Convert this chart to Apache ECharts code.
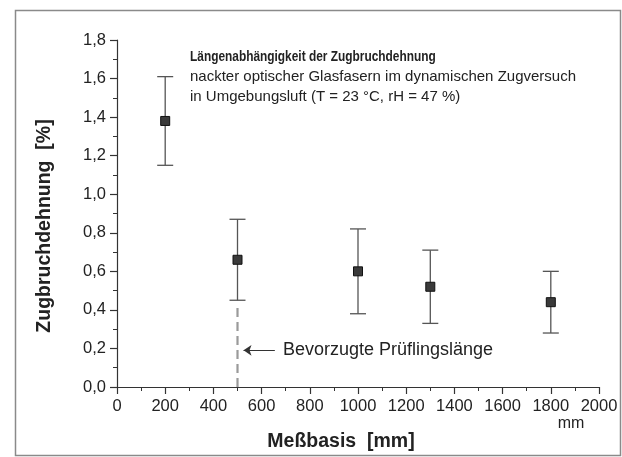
<!DOCTYPE html>
<html>
<head>
<meta charset="utf-8">
<script src="https://cdn.jsdelivr.net/npm/echarts@6/dist/echarts.min.js"></script>
<style>
  html, body { margin: 0; padding: 0; background: #fff; }
  #chart { width: 622px; height: 457px; }
</style>
</head>
<body>
<div id="chart"></div>
<script>
// Messbasis der Proben [mm]
const messbasis = [200, 500, 1000, 1300, 1800];
// Zugbruchdehnung [%]: Mittelwert und Streubereich
const mittelwert = [1.38, 0.66, 0.60, 0.52, 0.44];
const untereGrenze = [1.15, 0.45, 0.38, 0.33, 0.28];
const obereGrenze = [1.61, 0.87, 0.82, 0.71, 0.60];

// gestrichelte Markierung der bevorzugten Prüflingslänge
const bevorzugtX = [500, 500];
const bevorzugtY = [0, 0.43];
// Pfeil zur Beschriftung
const pfeilX = [525, 655];
const pfeilY = [0.19, 0.19];

// Achsenteilung
const xTicks = [0, 200, 400, 600, 800, 1000, 1200, 1400, 1600, 1800, 2000];
const yTicks = [0.0, 0.2, 0.4, 0.6, 0.8, 1.0, 1.2, 1.4, 1.6, 1.8];

const FONT = '"Liberation Sans", Arial, sans-serif';
const textColor = "#222";

const chart = echarts.init(document.getElementById("chart"), null, { renderer: "canvas" });

const punkte = messbasis.map((x, i) => [x, mittelwert[i]]);
const balken = messbasis.map((x, i) => [x, untereGrenze[i], obereGrenze[i]]);
const strich = bevorzugtX.map((x, i) => [x, bevorzugtY[i]]);

const achse = {
  axisLine: { show: true, lineStyle: { color: "#333", width: 1.2 } },
  axisTick: { show: true, inside: false, length: 7, lineStyle: { color: "#333", width: 1.2 } },
  minorTick: { show: true, splitNumber: 2, length: 4, lineStyle: { color: "#333", width: 1 } },
  splitLine: { show: false },
  minorSplitLine: { show: false },
};

chart.setOption({
  animation: false,
  backgroundColor: "#fff",
  grid: { left: 117, right: 23, top: 40, bottom: 70, containLabel: false },
  xAxis: {
    type: "value",
    min: xTicks[0],
    max: xTicks[xTicks.length - 1],
    interval: xTicks[1] - xTicks[0],
    ...achse,
    axisLabel: { margin: 11, fontSize: 16.5, fontFamily: FONT, color: textColor, formatter: (v) => String(v) },
  },
  yAxis: {
    type: "value",
    min: yTicks[0],
    max: yTicks[yTicks.length - 1],
    interval: 0.2,
    ...achse,
    axisLabel: {
      margin: 11,
      fontSize: 16.5,
      fontFamily: FONT,
      color: textColor,
      formatter: (v) => v.toFixed(1).replace(".", ","),
    },
  },
  series: [
    {
      // Fehlerbalken
      type: "custom",
      data: balken,
      z: 2,
      renderItem: function (params, api) {
        const x = api.value(0);
        const lo = api.coord([x, api.value(1)]);
        const hi = api.coord([x, api.value(2)]);
        const hw = 8;
        const style = { stroke: "#555", lineWidth: 1.3 };
        return {
          type: "group",
          children: [
            { type: "line", shape: { x1: hi[0], y1: hi[1], x2: lo[0], y2: lo[1] }, style: style },
            { type: "line", shape: { x1: hi[0] - hw, y1: hi[1], x2: hi[0] + hw, y2: hi[1] }, style: style },
            { type: "line", shape: { x1: lo[0] - hw, y1: lo[1], x2: lo[0] + hw, y2: lo[1] }, style: style },
          ],
        };
      },
    },
    {
      // Mittelwerte
      type: "scatter",
      data: punkte,
      symbol: "rect",
      symbolSize: 9,
      z: 3,
      itemStyle: { color: "#3a3a3a", borderColor: "#111", borderWidth: 1, opacity: 1 },
    },
    {
      // bevorzugte Prüflingslänge
      type: "line",
      data: strich,
      showSymbol: false,
      z: 1,
      lineStyle: { color: "#9a9a9a", width: 2.2, type: [9, 5] },
      markLine: {
        silent: true,
        symbol: ["arrow", "none"],
        symbolSize: [8, 8],
        label: { show: false },
        lineStyle: { color: "#333", width: 1, type: "solid" },
        data: [[{ coord: [pfeilX[0], pfeilY[0]] }, { coord: [pfeilX[1], pfeilY[1]] }]],
      },
    },
  ],
  graphic: [
    {
      type: "rect",
      silent: true,
      shape: { x: 15.5, y: 10.5, width: 605, height: 445 },
      style: { fill: "none", stroke: "#8a8a8a", lineWidth: 1.5 },
    },
    {
      type: "text",
      x: 190, y: 57,
      scaleX: 0.82,
      style: { text: "Längenabhängigkeit der Zugbruchdehnung", font: "bold 14.5px " + FONT, fill: textColor, verticalAlign: "middle" },
    },
    {
      type: "text",
      x: 190, y: 77,
      style: { text: "nackter optischer Glasfasern im dynamischen Zugversuch", font: "15px " + FONT, fill: textColor, verticalAlign: "middle" },
    },
    {
      type: "text",
      x: 190, y: 97,
      style: { text: "in Umgebungsluft (T = 23 °C, rH = 47 %)", font: "15px " + FONT, fill: textColor, verticalAlign: "middle" },
    },
    {
      type: "text",
      x: 283, y: 350,
      style: { text: "Bevorzugte Prüflingslänge", font: "18px " + FONT, fill: textColor, verticalAlign: "middle" },
    },
    {
      type: "text",
      x: 571, y: 424,
      style: { text: "mm", font: "16px " + FONT, fill: textColor, align: "center", verticalAlign: "middle" },
    },
    {
      type: "text",
      x: 341, y: 442,
      style: { text: "Meßbasis  [mm]", font: "bold 19.5px " + FONT, fill: textColor, align: "center", verticalAlign: "middle" },
    },
    {
      type: "text",
      x: 45, y: 226,
      rotation: Math.PI / 2,
      style: { text: "Zugbruchdehnung  [%]", font: "bold 19.5px " + FONT, fill: textColor, align: "center", verticalAlign: "middle" },
    },
  ],
});
</script>
</body>
</html>
